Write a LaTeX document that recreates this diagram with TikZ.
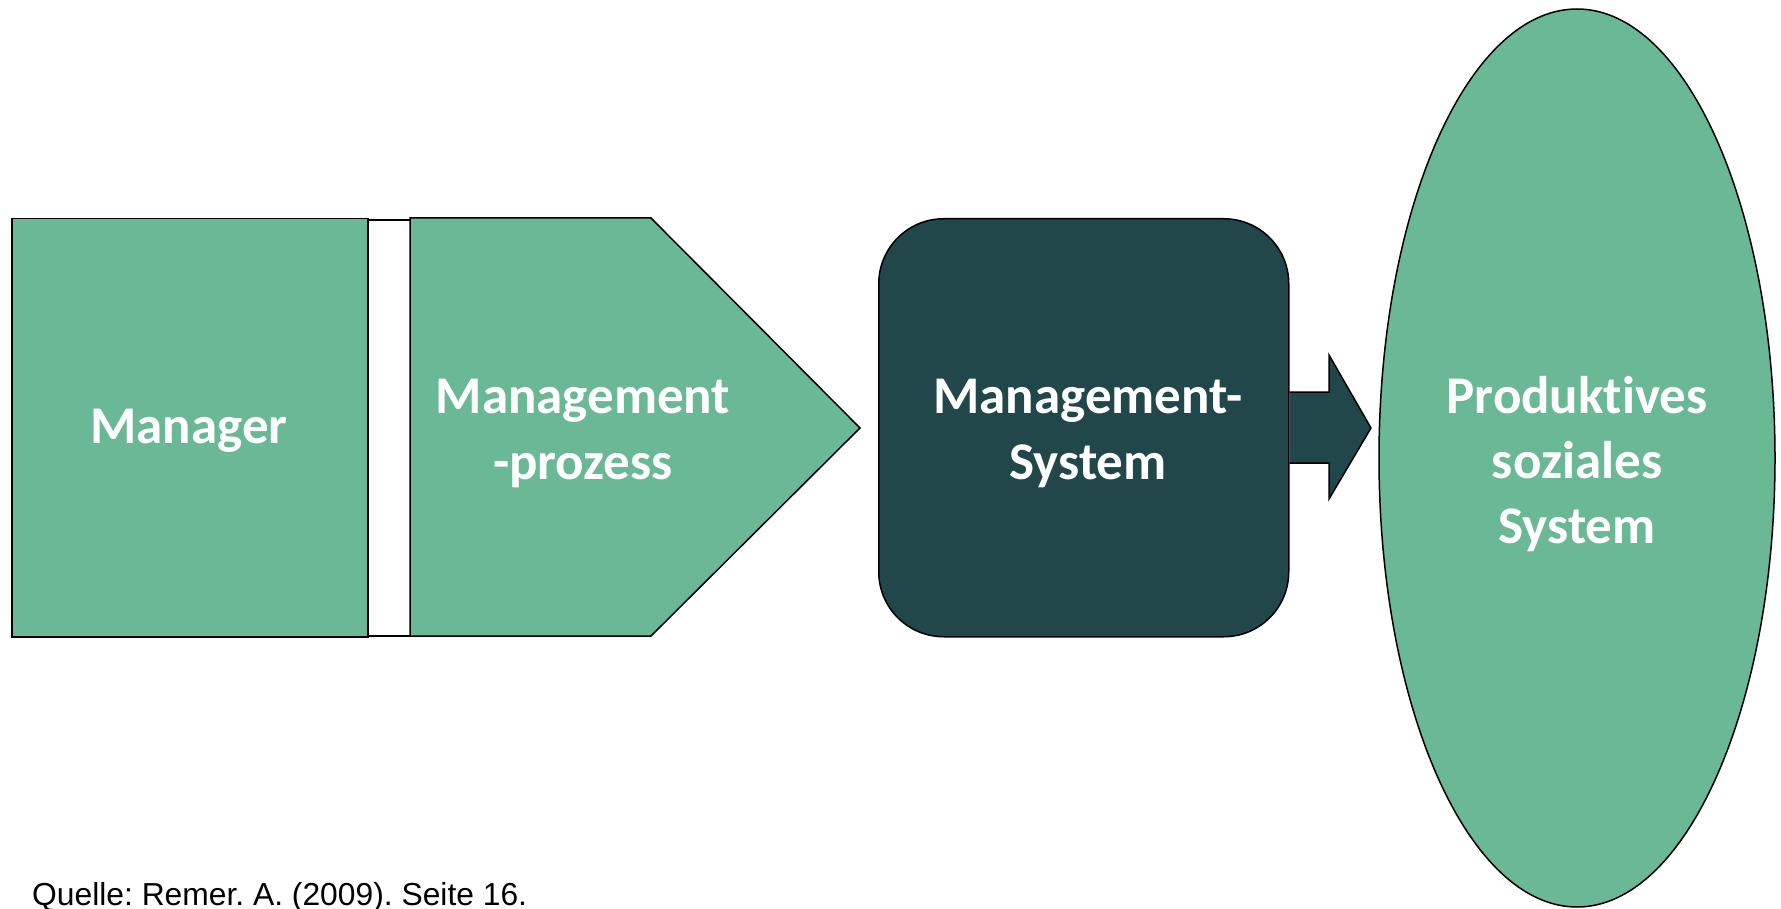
\documentclass[tikz,border=0pt]{standalone}
\usepackage{fontspec}
\setmainfont{Carlito}[Ligatures={CommonOff,ContextualOff}]
\newfontfamily\arialfont{Liberation Sans}
\usetikzlibrary{shapes.geometric}
\definecolor{mgreen}{RGB}{106,184,149}
\definecolor{mdark}{RGB}{33,71,74}
\frenchspacing
\tikzset{
  shp/.style={draw=black, line width=1.5pt},
  lbl/.style={text=white, font=\fontsize{53}{62}\selectfont\bfseries, anchor=base, inner sep=0pt},
}
\begin{document}
\begin{tikzpicture}[x=1pt,y=-1pt]
\useasboundingbox (0,0) rectangle (1781,909);
% gap strip
\draw[shp, fill=white] (367,220) rectangle (420,636);
% Manager box
\node[shp, fill=mgreen, rectangle, anchor=north west, minimum width=356pt, minimum height=418pt, inner sep=0pt] (manager) at (11,218) {};
% Management process pentagon
\draw[shp, fill=mgreen] (410,218) -- (651,218) -- (860,428) -- (651,636) -- (410,636) -- cycle;
\coordinate (proz) at (583,428);
% Management system
\node[shp, fill=mdark, rectangle, rounded corners=65pt, anchor=north west, minimum width=410pt, minimum height=418pt, inner sep=0pt] (msys) at (878,218) {};
% block arrow
\draw[shp, fill=mdark] (msys.east |- 0,392) -- (1329,392) -- (1329,355) -- (1371,428) -- (1329,499) -- (1329,463) -- (msys.east |- 0,463);
% ellipse
\node[shp, fill=mgreen, ellipse, minimum width=396pt, minimum height=898pt, inner sep=0pt] (pss) at (1577,458) {};
% labels
\node[lbl] (l1) at (189,443) {Manager};
\node[lbl] (l2) at (583,413) {Management};
\node[lbl] (l3) at (583,479) {-prozess};
\node[lbl] (l4) at (1088,413) {Management-};
\node[lbl] (l5) at (1088,479) {System};
\node[lbl] (l6) at (1577,413) {Produktives};
\node[lbl] (l7) at (1577,478) {soziales};
\node[lbl] (l8) at (1577,543) {System};
\node[anchor=base west, inner sep=0pt, font=\arialfont\fontsize{31.8}{36}\selectfont] (src) at (32,905) {Quelle: Remer. A. (2009). Seite 16.};
\end{tikzpicture}
\end{document}
